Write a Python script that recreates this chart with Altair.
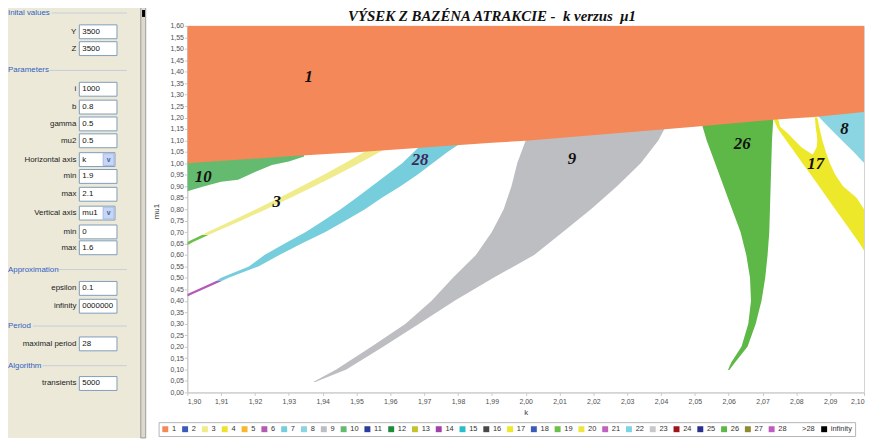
import altair as alt
import pandas as pd

# ---------------- chart values ----------------
K_MIN, K_MAX = 1.90, 2.10
MU_MIN, MU_MAX = 0.0, 1.60

CATEGORIES = [str(i) for i in range(1, 29)] + [">28", "infinity"]
CAT_COLORS = ["#F48858", "#3A5BB8", "#F0EC8C", "#EEE22E", "#F5B82E", "#B45AB4", "#76CEDD",
              "#8BD5E2", "#BDBEC2", "#64BA6E", "#2A3C9C", "#1F8C3A", "#C4C22E", "#A040A8",
              "#2ABFC8", "#484848", "#EEE82A", "#3A5BB8", "#6CC04A", "#EEE640", "#C062C0",
              "#7ED4E4", "#C8C8CC", "#A0141C", "#2A3090", "#5EB847", "#8E8C30", "#C05CC0",
              "#FFFFFF", "#000000"]

X_TICKS = [1.90, 1.91, 1.92, 1.93, 1.94, 1.95, 1.96, 1.97, 1.98, 1.99, 2.00,
           2.01, 2.02, 2.03, 2.04, 2.05, 2.06, 2.07, 2.08, 2.09, 2.10]
Y_TICKS = [0.00, 0.05, 0.10, 0.15, 0.20, 0.25, 0.30, 0.35, 0.40, 0.45, 0.50, 0.55,
           0.60, 0.65, 0.70, 0.75, 0.80, 0.85, 0.90, 0.95, 1.00, 1.05, 1.10, 1.15,
           1.20, 1.25, 1.30, 1.35, 1.40, 1.45, 1.50, 1.55, 1.60]

# region 1 (orange): lower boundary, fills up to MU_MAX
R1_K = [1.900, 1.930, 1.950, 1.990, 2.000, 2.050, 2.074, 2.086, 2.100]
R1_MU = [1.000, 1.031, 1.048, 1.090, 1.098, 1.160, 1.191, 1.203, 1.224]

# region 10 (green, left)
R10_K = [1.900, 1.905, 1.910, 1.915, 1.920, 1.925, 1.930, 1.9345]
R10_LOW = [0.878, 0.900, 0.920, 0.928, 0.962, 0.993, 1.008, 1.030]
R10_HIGH = [1.010, 1.012, 1.018, 1.022, 1.028, 1.032, 1.038, 1.040]

# bands described by mu and left/right k edges
R19_MU = [0.645, 0.657, 0.687]
R19_KL = [1.9000, 1.9000, 1.9043]
R19_KR = [1.9003, 1.9017, 1.9062]

R3_MU = [0.687, 0.70, 0.75, 0.80, 0.85, 0.90, 0.95, 1.00, 1.05, 1.08]
R3_KL = [1.9043, 1.9060, 1.9133, 1.9203, 1.9272, 1.9338, 1.9403, 1.9465, 1.9524, 1.9560]
R3_KR = [1.9062, 1.9082, 1.9160, 1.9233, 1.9305, 1.9375, 1.9443, 1.9508, 1.9570, 1.9607]

R6_MU = [0.420, 0.430, 0.455, 0.486]
R6_KL = [1.9000, 1.9000, 1.9038, 1.9085]
R6_KR = [1.9002, 1.9016, 1.9054, 1.9102]

R7_MU = [0.486, 0.50, 0.55, 0.60, 0.65, 0.70, 0.75, 0.80, 0.85, 0.90, 0.95, 1.00, 1.05, 1.10]
R7_KL = [1.9085, 1.9100, 1.9182, 1.9228, 1.9288, 1.9350, 1.9403, 1.9453, 1.9500, 1.9545,
         1.9590, 1.9635, 1.9670, 1.9705]
R7_KR = [1.9102, 1.9122, 1.9210, 1.9272, 1.9338, 1.9408, 1.9468, 1.9525, 1.9575, 1.9630,
         1.9680, 1.9725, 1.9770, 1.9820]

R9_MU = [0.045, 0.10, 0.20, 0.30, 0.40, 0.50, 0.60, 0.70, 0.80, 0.90, 1.00, 1.10, 1.15]
R9_KL = [1.9372, 1.9440, 1.9545, 1.9645, 1.9722, 1.9785, 1.9853, 1.9900, 1.9935, 1.9958,
         1.9975, 2.0000, 2.0010]
R9_KR = [1.9378, 1.9470, 1.9580, 1.9685, 1.9790, 1.9905, 2.0025, 2.0110, 2.0193, 2.0270,
         2.0340, 2.0392, 2.0410]

R26_MU = [0.098, 0.13, 0.20, 0.30, 0.40, 0.50, 0.60, 0.70, 0.80, 0.90, 1.00, 1.10, 1.20]
R26_KL = [2.0598, 2.0607, 2.0638, 2.0658, 2.0666, 2.0663, 2.0652, 2.0635, 2.0610, 2.0585,
          2.0560, 2.0535, 2.0515]
R26_KR = [2.0602, 2.0618, 2.0656, 2.0680, 2.0697, 2.0708, 2.0715, 2.0720, 2.0722, 2.0724,
          2.0726, 2.0728, 2.0732]

R17_MU = [0.62, 0.65, 0.70, 0.75, 0.80, 0.85, 0.90, 0.95, 1.00, 1.05, 1.10, 1.15, 1.20]
R17_KL = [2.1000, 2.0987, 2.0963, 2.0939, 2.0915, 2.0891, 2.0867, 2.0843, 2.0818, 2.0794,
          2.0770, 2.0746, 2.0730]
R17_KR = [2.1000, 2.1000, 2.1000, 2.1000, 2.1000, 2.0978, 2.0938, 2.0915, 2.0899, 2.0887,
          2.0877, 2.0869, 2.0862]

HOLE17_MU = [1.04, 1.07, 1.10, 1.13, 1.16, 1.20]
HOLE17_KL = [2.0846, 2.0815, 2.0795, 2.0775, 2.0752, 2.0745]
HOLE17_KR = [2.0849, 2.0860, 2.0862, 2.0860, 2.0857, 2.0855]

R8_MU = [1.005, 1.05, 1.10, 1.15, 1.21, 1.23]
R8_KL = [2.0998, 2.0969, 2.0935, 2.0901, 2.0862, 2.0855]
R8_KR = [2.1000, 2.1000, 2.1000, 2.1000, 2.1000, 2.1000]

LABELS = ["1", "10", "3", "28", "9", "26", "17", "8"]
LABEL_K = [1.9359, 1.9047, 1.9264, 1.9688, 2.0137, 2.0640, 2.0857, 2.0942]
LABEL_MU = [1.375, 0.940, 0.832, 1.015, 1.019, 1.084, 0.995, 1.149]

TITLE = "VÝSEK Z BAZÉNA ATRAKCIE -\u00a0 k verzus\u00a0 μ1"

# side panel texts
PANEL_HEADINGS = ["Inital values", "Parameters", "Approximation", "Period", "Algorithm"]
FIELD_LABELS = ["Y", "Z", "i", "b", "gamma", "mu2", "Horizontal axis", "min", "max",
                "Vertical axis", "min", "max", "epsilon", "infinity", "maximal period",
                "transients"]
FIELD_VALUES = ["3500", "3500", "1000", "0.8", "0.5", "0.5", "k", "1.9", "2.1", "mu1",
                "0", "1.6", "0.1", "0000000", "28", "5000"]
FIELD_IS_DROPDOWN = [False, False, False, False, False, False, True, False, False, True,
                     False, False, False, False, False, False]

# ---------------- layout (pixels of the window) ----------------
W, H = 683, 370
PX0, PY0 = 189, 24                     # plot origin in window pixels
HEAD_Y = [11, 69, 270, 327, 367]
HEAD_LINE_X0 = [52, 50, 57, 33, 43]
FIELD_Y = [30, 47, 88, 106, 123, 140, 159, 176, 194, 213, 232, 248, 289, 307, 345, 385]

# ---------------- data frames ----------------
df_r1 = pd.DataFrame({"k": R1_K, "lo": R1_MU, "hi": [MU_MAX] * len(R1_K), "cat": "1"})
df_r10 = pd.DataFrame({"k": R10_K, "lo": R10_LOW, "hi": R10_HIGH, "cat": "10"})


def hband(rid, cat, mus, kls, krs):
    return pd.DataFrame({"rid": rid, "cat": cat, "mu": mus, "kl": kls, "kr": krs})


df_h = pd.concat([
    hband("b19", "19", R19_MU, R19_KL, R19_KR),
    hband("b3", "3", R3_MU, R3_KL, R3_KR),
    hband("b6", "6", R6_MU, R6_KL, R6_KR),
    hband("b7", "7", R7_MU, R7_KL, R7_KR),
    hband("b9", "9", R9_MU, R9_KL, R9_KR),
    hband("b26", "26", R26_MU, R26_KL, R26_KR),
    hband("b17", "17", R17_MU, R17_KL, R17_KR),
    hband("b8", "8", R8_MU, R8_KL, R8_KR),
], ignore_index=True)
df_hole = hband("hole", "none", HOLE17_MU, HOLE17_KL, HOLE17_KR)

df_lab = pd.DataFrame({"t": LABELS, "k": LABEL_K, "mu": LABEL_MU})
df_lab_black = df_lab[df_lab["t"] != "28"]
df_lab_28 = df_lab[df_lab["t"] == "28"]

# ---------------- scales / axes ----------------
xs = alt.Scale(domain=[K_MIN, K_MAX], nice=False, zero=False)
ys = alt.Scale(domain=[MU_MIN, MU_MAX], nice=False, zero=False)

lab_expr = "replace(datum.label, '.', ',')"
x_axis = alt.Axis(orient="bottom", values=X_TICKS, format=".2f", labelExpr=lab_expr,
                  title="k", titleY=20, titleBaseline="middle", tickSize=3,
                  labelPadding=2, labelOverlap=False, grid=False)
y_axis = alt.Axis(orient="left", values=Y_TICKS, format=".2f", labelExpr=lab_expr,
                  title="mu1", titleX=-31, titleY=187, titleAngle=270,
                  titleAlign="center", titleBaseline="middle", tickSize=3,
                  labelPadding=1, labelOverlap=False, grid=False)

color = alt.Color(
    "cat:N",
    scale=alt.Scale(domain=CATEGORIES, range=CAT_COLORS),
    legend=alt.Legend(title=None, orient="none", legendX=-29, legendY=400,
                      direction="horizontal", columns=30, symbolType="square",
                      symbolSize=36, symbolStrokeWidth=0, labelFont="Liberation Sans",
                      labelFontSize=7.5, labelColor="#333333", labelOffset=3,
                      columnPadding=5, padding=3, strokeColor="#B4B4B4",
                      fillColor="white"),
)

# ---------------- data layers ----------------
g10 = alt.Chart(df_r10).mark_area(clip=True, opacity=1).encode(
    x=alt.X("k:Q", scale=xs, axis=None),
    y=alt.Y("lo:Q", scale=ys, axis=None, stack=None),
    y2="hi:Q",
    color=color,
)

bands = alt.Chart(df_h).mark_area(orient="horizontal", clip=True, opacity=1).encode(
    y=alt.Y("mu:Q", scale=ys, axis=None),
    x=alt.X("kl:Q", scale=xs, axis=None, stack=None),
    x2="kr:Q",
    color=color,
    detail="rid:N",
)

hole = alt.Chart(df_hole).mark_area(orient="horizontal", clip=True, color="white",
                                     opacity=1).encode(
    y=alt.Y("mu:Q", scale=ys, axis=None),
    x=alt.X("kl:Q", scale=xs, axis=None, stack=None),
    x2="kr:Q",
)

orange = alt.Chart(df_r1).mark_area(clip=True, opacity=1).encode(
    x=alt.X("k:Q", scale=xs, axis=x_axis),
    y=alt.Y("lo:Q", scale=ys, axis=y_axis, stack=None),
    y2="hi:Q",
    color=color,
)

lab_style = dict(font="Liberation Serif", fontStyle="italic", fontWeight="bold",
                 fontSize=17, align="center", baseline="middle")
labels_black = alt.Chart(df_lab_black).mark_text(color="#111111", **lab_style).encode(
    x=alt.X("k:Q", scale=xs, axis=None),
    y=alt.Y("mu:Q", scale=ys, axis=None),
    text="t:N",
)
labels_28 = alt.Chart(df_lab_28).mark_text(color="#3B2A5A", **lab_style).encode(
    x=alt.X("k:Q", scale=xs, axis=None),
    y=alt.Y("mu:Q", scale=ys, axis=None),
    text="t:N",
)

# ---------------- decorative side panel (window pixel frame) ----------------
px = alt.Scale(domain=[PX0, PX0 + W], nice=False, zero=False)
py = alt.Scale(domain=[PY0, PY0 + H], nice=False, zero=False, reverse=True)


def rect_layer(df, fill, stroke=None, sw=1.0):
    kw = dict(fill=fill, strokeWidth=sw)
    if stroke:
        kw["stroke"] = stroke
    return alt.Chart(df).mark_rect(**kw).encode(
        x=alt.X("x0:Q", scale=px, axis=None), x2="x1:Q",
        y=alt.Y("y0:Q", scale=py, axis=None), y2="y1:Q",
    )


def text_layer(df, align, color_, size=8, font="Liberation Sans", **kw):
    return alt.Chart(df).mark_text(align=align, baseline=kw.pop("baseline", "middle"),
                                   color=color_, fontSize=size, font=font, **kw).encode(
        x=alt.X("x:Q", scale=px, axis=None),
        y=alt.Y("y:Q", scale=py, axis=None),
        text="t:N",
    )


df_bg = pd.DataFrame({"x0": [0], "x1": [142], "y0": [0], "y1": [440]})
df_strip = pd.DataFrame({"x0": [142], "x1": [147], "y0": [0], "y1": [440]})
df_knob = pd.DataFrame({"x0": [143.3], "x1": [146.3], "y0": [8], "y1": [15]})
df_boxes = pd.DataFrame({
    "x0": [80] * len(FIELD_Y),
    "x1": [116 if d else 118 for d in FIELD_IS_DROPDOWN],
    "y0": [y - 7 for y in FIELD_Y],
    "y1": [y + 7 for y in FIELD_Y],
})
dd_y = [y for y, d in zip(FIELD_Y, FIELD_IS_DROPDOWN) if d]
df_buttons = pd.DataFrame({"x0": [104] * len(dd_y), "x1": [115] * len(dd_y),
                           "y0": [y - 6 for y in dd_y], "y1": [y + 6 for y in dd_y]})
df_chev = pd.DataFrame({"x": [109.5] * len(dd_y), "y": dd_y, "t": ["v"] * len(dd_y)})
df_seps = pd.DataFrame({"x0": HEAD_LINE_X0, "x1": [128] * len(HEAD_Y), "y": HEAD_Y})
df_heads = pd.DataFrame({"x": [8] * len(HEAD_Y), "y": HEAD_Y, "t": PANEL_HEADINGS})
df_flabels = pd.DataFrame({"x": [77] * len(FIELD_Y), "y": FIELD_Y, "t": FIELD_LABELS})
df_fvalues = pd.DataFrame({"x": [83] * len(FIELD_Y), "y": FIELD_Y, "t": FIELD_VALUES})
df_title = pd.DataFrame({"x": [496.5], "y": [19], "t": [TITLE]})

seps = alt.Chart(df_seps).mark_rule(color="#C5CDDB", strokeWidth=1).encode(
    x=alt.X("x0:Q", scale=px, axis=None), x2="x1:Q",
    y=alt.Y("y:Q", scale=py, axis=None),
)

panel_layers = [
    rect_layer(df_bg, "#ECE9D8"),
    rect_layer(df_strip, "#DCD8CC", "#8A8A8A", 0.8),
    rect_layer(df_knob, "#000000"),
    seps,
    rect_layer(df_boxes, "#FFFFFF", "#7F9DB9", 1),
    rect_layer(df_buttons, "#C6D6F8", "#9DB2E0", 0.8),
    text_layer(df_chev, "center", "#4D6185", 7, fontWeight="bold"),
    text_layer(df_heads, "left", "#2F5FC4", 8),
    text_layer(df_flabels, "right", "#222222", 8),
    text_layer(df_fvalues, "left", "#111111", 8),
    text_layer(df_title, "center", "#111111", 15, font="Liberation Serif",
               fontStyle="italic", fontWeight="bold", baseline="alphabetic"),
]

data_layers = [g10, bands, hole, orange, labels_black, labels_28]

chart = alt.layer(*data_layers, *panel_layers).resolve_scale(
    x="independent", y="independent"
).properties(
    width=W, height=H,
    padding={"left": 181, "top": 16, "right": 2, "bottom": 46},
    autosize=alt.AutoSizeParams(type="none"),
    background="white",
).configure_view(
    stroke="#D2D2D2", strokeWidth=1
).configure_axis(
    domainColor="#C8C8C8", tickColor="#C8C8C8", labelFont="Liberation Sans",
    labelFontSize=7, labelColor="#505050", titleFont="Liberation Sans",
    titleFontSize=8, titleColor="#404040", titleFontWeight="normal",
)

chart.save("out.html", embed_options={"renderer": "svg", "actions": False})
